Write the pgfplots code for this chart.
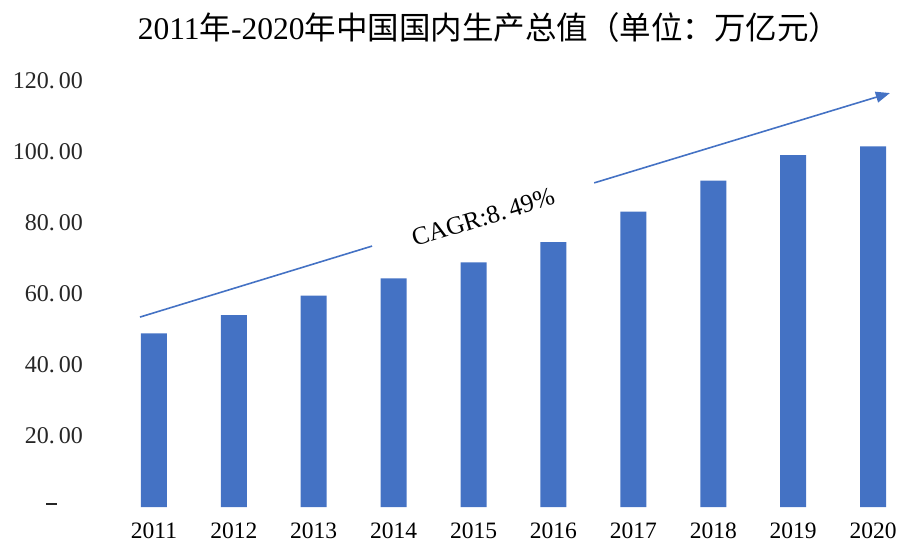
\documentclass[border=0pt]{standalone}
\usepackage{pgfplots}
\pgfplotsset{compat=1.18}
\usepackage{fontspec}
\setmainfont{Liberation Serif}
\newfontfamily\cjk{Noto Sans CJK SC}
\usetikzlibrary{arrows.meta}
\definecolor{barblue}{HTML}{4472C4}

\begin{document}
\begin{tikzpicture}[x=1pt,y=1pt]
\useasboundingbox (0,0) rectangle (901,541);
\begin{axis}[
  at={(110pt,34pt)}, anchor=south west,
  scale only axis, width=791pt, height=426pt,
  xmin=2010.45, xmax=2020.35, ymin=0, ymax=120,
  clip=false,
  axis line style={draw=none},
  tick style={draw=none},
  major tick length=0pt,
  xtick={2011,2012,2013,2014,2015,2016,2017,2018,2019,2020},
  xticklabels={2011,2012,2013,2014,2015,2016,2017,2018,2019,2020},
  ytick={0,20,40,60,80,100,120},
  yticklabels={{\makebox[62pt][c]{\rule[0.25em]{11pt}{1.3pt}}},{20.\kern4pt 00},{40.\kern4pt 00},{60.\kern4pt 00},{80.\kern4pt 00},{100.\kern4pt 00},{120.\kern4pt 00}},
  xticklabel style={anchor=center, inner sep=0pt, yshift=-24pt, font=\fontsize{23.5}{27}\selectfont},
  yticklabel style={anchor=east, inner sep=0pt, xshift=-27pt, font=\fontsize{24}{28}\selectfont, color=black!85},
]
\addplot[ybar, bar width=26pt, fill=barblue, draw=none] coordinates {
  (2011,48.93) (2012,54.04) (2013,59.52) (2014,64.40) (2015,68.89)
  (2016,74.64) (2017,83.20) (2018,91.93) (2019,99.09) (2020,101.60)
};
\draw[barblue, line width=1.6pt] (axis cs:2010.825,53.5) -- (axis cs:2013.73,73.5);
\draw[barblue, line width=1.6pt, -{Triangle[length=14pt,width=11pt]}] (axis cs:2016.51,91.3) -- (axis cs:2020.21,116.6);
\node[rotate=17, font=\fontsize{25.5}{30}\selectfont] at (axis cs:2015.12,81.6) {CAGR:8.\kern4pt 49\%};
\end{axis}
\node[font=\fontsize{31.5}{36}\selectfont] at (489,513) {2011{\cjk 年}-2020{\cjk 年中国国内生产总值（单位：万亿元）}};
\end{tikzpicture}
\end{document}
